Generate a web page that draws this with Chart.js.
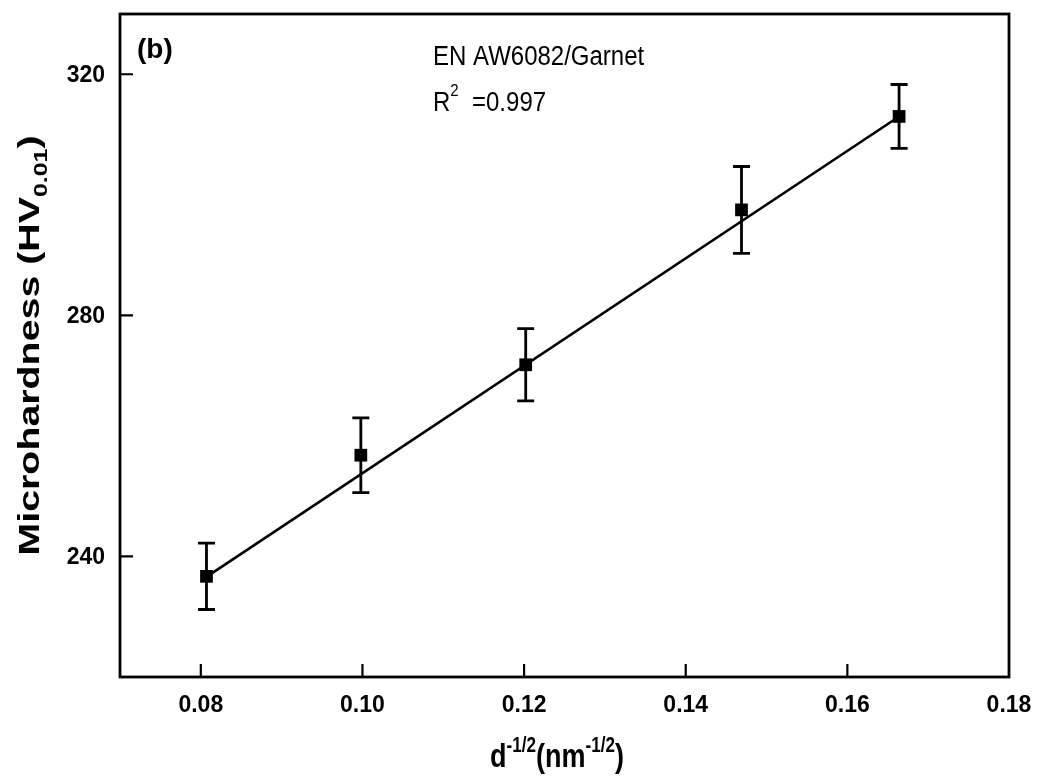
<!DOCTYPE html>
<html>
<head>
<meta charset="utf-8">
<script src="https://cdn.jsdelivr.net/npm/chart.js@4/dist/chart.umd.min.js"></script>
<style>
  html, body { margin: 0; background: #fff; }
  #wrap { width: 1038px; height: 779px; }
</style>
</head>
<body>
<div id="wrap"><canvas id="hardness"></canvas></div>
<script>
// values
var xValues = [0.0807, 0.0998, 0.1202, 0.1469, 0.1664];
var yValues = [236.7, 256.8, 271.8, 297.5, 313.0];
var yErrors = [5.5, 6.2, 6.0, 7.2, 5.3];
var fitX = [0.0807, 0.1664];
var fitY = [236.6, 313.0];
var xTicks = [0.08, 0.10, 0.12, 0.14, 0.16, 0.18];
var yTicks = [240, 280, 320];

var FONT = "'Liberation Sans', Arial, sans-serif";

var points = xValues.map(function (x, i) { return {x: x, y: yValues[i]}; });
var fitLine = fitX.map(function (x, i) { return {x: x, y: fitY[i]}; });

// draws a run of [text, font, baselineShift] pieces, stretched to a given length
function drawRun(ctx, parts, x0, y0, length, sy) {
  var total = 0;
  parts.forEach(function (p) { ctx.font = p[1]; p[3] = ctx.measureText(p[0]).width; total += p[3]; });
  var sx = length ? length / total : 1;
  ctx.save();
  ctx.translate(x0, y0);
  ctx.scale(sx, sy || 1);
  var cx = 0;
  parts.forEach(function (p) {
    ctx.font = p[1];
    ctx.fillText(p[0], cx, p[2]);
    cx += p[3];
  });
  ctx.restore();
  return total * sx;
}

// error bars, frame, inward ticks and all the labels
var extras = {
  id: "extras",
  afterDatasetsDraw: function (chart) {
    var ctx = chart.ctx, xs = chart.scales.x, ys = chart.scales.y;
    ctx.save();
    ctx.strokeStyle = "#000";
    ctx.lineWidth = 2.8;
    xValues.forEach(function (x, i) {
      var px = xs.getPixelForValue(x);
      var top = ys.getPixelForValue(yValues[i] + yErrors[i]);
      var bot = ys.getPixelForValue(yValues[i] - yErrors[i]);
      ctx.beginPath();
      ctx.moveTo(px, top); ctx.lineTo(px, bot);
      ctx.moveTo(px - 8.5, top); ctx.lineTo(px + 8.5, top);
      ctx.moveTo(px - 8.5, bot); ctx.lineTo(px + 8.5, bot);
      ctx.stroke();
    });
    ctx.restore();
  },
  afterDraw: function (chart) {
    var ctx = chart.ctx, a = chart.chartArea, xs = chart.scales.x, ys = chart.scales.y;
    ctx.save();
    ctx.strokeStyle = "#000";
    ctx.lineWidth = 2.8;
    ctx.strokeRect(a.left, a.top, a.right - a.left, a.bottom - a.top);
    ctx.lineWidth = 2.2;
    ctx.beginPath();
    xTicks.forEach(function (v) {
      var px = xs.getPixelForValue(v);
      if (px < a.right - 2) { ctx.moveTo(px, a.bottom); ctx.lineTo(px, a.bottom - 13); }
    });
    yTicks.forEach(function (v) {
      var py = ys.getPixelForValue(v);
      ctx.moveTo(a.left, py); ctx.lineTo(a.left + 13, py);
    });
    ctx.stroke();

    ctx.fillStyle = "#000";
    ctx.textBaseline = "alphabetic";

    // tick labels
    ctx.font = "bold 23px " + FONT;
    ctx.textAlign = "center";
    xTicks.forEach(function (v) {
      ctx.fillText(v.toFixed(2), xs.getPixelForValue(v), 712);
    });
    ctx.textAlign = "right";
    yTicks.forEach(function (v) {
      ctx.fillText(String(v), 105, ys.getPixelForValue(v) + 8);
    });
    ctx.textAlign = "left";

    // panel label and annotation
    ctx.font = "bold 28px " + FONT;
    ctx.fillText("(b)", 137, 58);
    var reg = "24px " + FONT, sup = "15px " + FONT;
    drawRun(ctx, [["EN AW6082/Garnet", reg, 0]], 433, 65, 0, 1.15);
    drawRun(ctx, [["R", reg, 0], ["2", sup, -13], ["  =0.997", reg, 0]], 433, 111, 0, 1.15);

    // y axis title with subscript
    var big = "bold 30px " + FONT, small = "bold 19px " + FONT;
    ctx.save();
    ctx.translate(39, (a.top + a.bottom) / 2);
    ctx.rotate(-Math.PI / 2);
    var yParts = [["Microhardness (HV", big, 0], ["0.01", small, 8], [")", big, 0]];
    var len = 420;
    drawRun(ctx, yParts, -len / 2, 0, len, 1);
    ctx.restore();

    // x axis title with superscripts
    var xParts = [["d", big, 0], ["-1/2", small, -13], ["(nm", big, 0], ["-1/2", small, -13], [")", big, 0]];
    var xlen = 134;
    drawRun(ctx, xParts, 490, 767, xlen, 1.12);
    ctx.restore();
  }
};

new Chart("hardness", {
  type: "scatter",
  data: {
    datasets: [{
      data: fitLine,
      showLine: true,
      borderColor: "#000",
      borderWidth: 2.6,
      pointRadius: 0,
      fill: false
    }, {
      data: points,
      pointStyle: "rect",
      pointRadius: 9,
      backgroundColor: "#000",
      borderColor: "#000",
      borderWidth: 0
    }]
  },
  options: {
    responsive: true,
    maintainAspectRatio: false,
    animation: false,
    layout: { padding: { left: 0, top: 14, right: 29, bottom: 0 } },
    plugins: { legend: { display: false }, tooltip: { enabled: false } },
    scales: {
      x: {
        type: "linear",
        min: 0.07,
        max: 0.18,
        afterBuildTicks: function (s) { s.ticks = xTicks.map(function (v) { return {value: v}; }); },
        afterFit: function (s) {
          s.height = 102;
          s.paddingLeft = 0; s.paddingRight = 0; s.paddingTop = 0; s.paddingBottom = 0;
        },
        grid: { display: false, drawTicks: false },
        border: { display: false },
        ticks: { display: false }
      },
      y: {
        min: 220,
        max: 330,
        afterBuildTicks: function (s) { s.ticks = yTicks.map(function (v) { return {value: v}; }); },
        afterFit: function (s) {
          s.width = 120;
          s.paddingLeft = 0; s.paddingRight = 0; s.paddingTop = 0; s.paddingBottom = 0;
        },
        grid: { display: false, drawTicks: false },
        border: { display: false },
        ticks: { display: false }
      }
    }
  },
  plugins: [extras]
});
</script>
</body>
</html>
